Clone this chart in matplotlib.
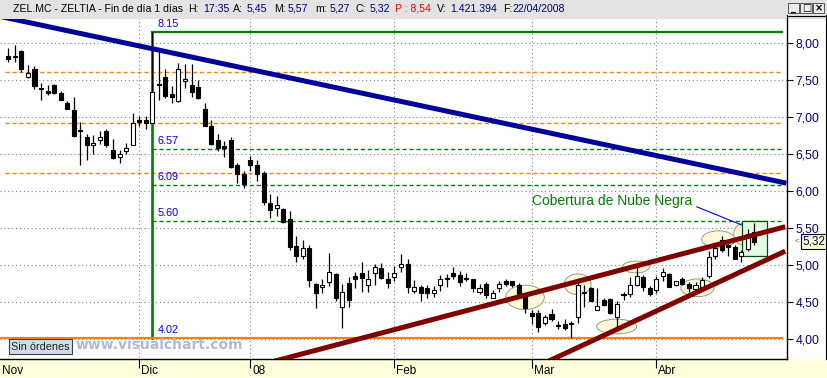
import numpy as np
import matplotlib
matplotlib.use('Agg')
import matplotlib.pyplot as plt
from matplotlib.patches import Rectangle, Ellipse
from matplotlib.lines import Line2D

plt.rcParams['font.family'] = ['Liberation Sans', 'DejaVu Sans']

# daily candles ZEL.MC, 5 nov 2007 .. 22 abr 2008
opens = [7.83, 7.82, 7.90, 7.54, 7.66, 7.40, 7.36, 7.44, 7.33, 7.19,
         7.10, 6.83, 6.73, 6.62, 6.70, 6.82, 6.56, 6.47, 6.55, 6.63,
         6.97, 6.96, 6.93, 7.45, 7.54, 7.31, 7.22, 7.49, 7.44, 7.41,
         7.12, 6.88, 6.69, 6.61, 6.69, 6.36, 6.23, 6.42, 6.36, 6.25,
         5.84, 5.77, 5.76, 5.63, 5.26, 5.12, 5.23, 4.74, 4.70, 4.77,
         4.88, 4.44, 4.76, 4.85, 4.90, 4.73, 4.89, 4.96, 4.81, 4.84,
         4.97, 5.01, 4.65, 4.70, 4.69, 4.62, 4.73, 4.82, 4.89, 4.87,
         4.82, 4.81, 4.64, 4.74, 4.56, 4.69, 4.79, 4.79, 4.73, 4.61,
         4.35, 4.35, 4.22, 4.34, 4.19, 4.21, 4.20, 4.30, 4.64, 4.69,
         4.40, 4.53, 4.54, 4.30, 4.59, 4.61, 4.73, 4.84, 4.69, 4.67,
         4.85, 4.88, 4.73, 4.81, 4.74, 4.68, 4.71, 4.85, 5.12, 5.34,
         5.27, 5.24, 5.12, 5.22, 5.45]
highs = [7.94, 7.98, 7.91, 7.71, 7.69, 7.46, 7.44, 7.45, 7.36, 7.22,
         7.27, 6.94, 6.78, 6.76, 6.81, 6.84, 6.71, 6.56, 6.66, 7.06,
         7.02, 7.02, 8.15, 7.94, 7.66, 7.42, 7.73, 7.72, 7.72, 7.51,
         7.19, 6.96, 6.78, 6.68, 6.74, 6.38, 6.27, 6.48, 6.42, 6.27,
         5.96, 5.94, 5.77, 5.73, 5.39, 5.34, 5.27, 4.76, 4.82, 5.16,
         4.89, 4.75, 4.84, 4.91, 5.05, 4.94, 5.02, 5.03, 4.91, 4.99,
         5.15, 5.08, 4.80, 4.73, 4.73, 4.72, 4.87, 4.88, 4.97, 4.92,
         4.89, 4.82, 4.74, 4.77, 4.67, 4.78, 4.82, 4.79, 4.76, 4.62,
         4.39, 4.39, 4.33, 4.41, 4.24, 4.27, 4.24, 4.82, 4.73, 4.70,
         4.69, 4.55, 4.55, 4.51, 4.64, 4.84, 5.01, 4.87, 4.72, 4.85,
         4.96, 4.89, 4.79, 4.84, 4.77, 4.77, 4.84, 5.19, 5.30, 5.39,
         5.33, 5.27, 5.21, 5.49, 5.57]
lows = [7.75, 7.75, 7.62, 7.53, 7.39, 7.24, 7.30, 7.32, 7.23, 7.11,
        6.74, 6.35, 6.42, 6.50, 6.64, 6.60, 6.44, 6.38, 6.50, 6.62,
        6.89, 6.84, 6.92, 7.24, 7.26, 7.19, 7.21, 7.40, 7.27, 7.25,
        6.88, 6.63, 6.54, 6.47, 6.32, 6.11, 6.05, 6.27, 6.14, 5.81,
        5.64, 5.67, 5.57, 5.21, 5.04, 5.08, 4.70, 4.42, 4.62, 4.72,
        4.51, 4.15, 4.44, 4.69, 4.64, 4.64, 4.73, 4.82, 4.69, 4.78,
        4.91, 4.62, 4.62, 4.52, 4.56, 4.57, 4.65, 4.71, 4.82, 4.72,
        4.78, 4.64, 4.61, 4.55, 4.55, 4.64, 4.72, 4.71, 4.55, 4.35,
        4.21, 4.10, 4.19, 4.25, 4.13, 4.12, 4.02, 4.22, 4.44, 4.51,
        4.39, 4.45, 4.34, 4.15, 4.53, 4.57, 4.72, 4.65, 4.58, 4.63,
        4.78, 4.70, 4.72, 4.73, 4.64, 4.66, 4.69, 4.83, 5.09, 5.18,
        5.12, 5.08, 5.05, 5.19, 5.27]
closes = [7.79, 7.83, 7.65, 7.60, 7.43, 7.39, 7.33, 7.33, 7.24, 7.12,
          6.75, 6.82, 6.62, 6.66, 6.74, 6.62, 6.45, 6.50, 6.58, 6.92,
          6.94, 6.93, 7.35, 7.44, 7.29, 7.27, 7.66, 7.52, 7.34, 7.26,
          6.89, 6.64, 6.58, 6.58, 6.33, 6.23, 6.10, 6.35, 6.23, 5.86,
          5.75, 5.81, 5.58, 5.24, 5.13, 5.23, 4.80, 4.63, 4.73, 4.91,
          4.55, 4.64, 4.53, 4.81, 4.83, 4.81, 4.97, 4.83, 4.76, 4.90,
          5.01, 4.70, 4.71, 4.62, 4.62, 4.67, 4.81, 4.81, 4.85, 4.77,
          4.82, 4.69, 4.69, 4.60, 4.62, 4.75, 4.75, 4.73, 4.57, 4.42,
          4.31, 4.17, 4.30, 4.27, 4.18, 4.15, 4.20, 4.73, 4.62, 4.52,
          4.45, 4.46, 4.35, 4.47, 4.61, 4.73, 4.85, 4.70, 4.61, 4.81,
          4.91, 4.71, 4.78, 4.75, 4.69, 4.73, 4.80, 5.11, 5.23, 5.21,
          5.24, 5.09, 5.18, 5.42, 5.32]

month_labels = ['Nov', 'Dic', '08', 'Feb', 'Mar', 'Abr']
month_index = [-1.25, 20, 37, 59, 80, 99]

header_name = 'ZEL.MC - ZELTIA - Fin de día 1 días'
header_fields = [('H:', '17:35'), ('A:', '5,45'), ('M:', '5,57'), ('m:', '5,27'),
                 ('C:', '5,32'), ('P : 8,54', ''), ('V:', '1.421.394'), ('F:', '22/04/2008')]

# fibonacci tool: high on candle 22, low on candle 86
fib_high = 8.15
fib_low = 4.02
fib_mid = [6.57, 6.09, 5.60]
orange_levels = [7.61, 6.93, 6.25]

# hand drawn trend lines, (candle index, price) end points
blue_line = ([-1.3, 118.9], [8.367, 6.11])
red_upper = ([40.6, 118.7], [3.70, 5.52])
red_lower = ([82.5, 118.7], [3.70, 5.19])

# highlighted zones: (index, price, width, height)
ellipses = [(78.95, 4.565, 5.9, 0.33), (87.0, 4.742, 4.1, 0.28), (95.9, 4.976, 4.1, 0.16),
            (92.96, 4.17, 6.1, 0.20), (105.3, 4.694, 5.1, 0.24), (108.5, 5.35, 5.1, 0.23),
            (112.4, 5.42, 3.1, 0.30)]
pattern_box = (112.05, 5.124, 3.92, 0.478)
pattern_text = 'Cobertura de Nube Negra'

W, H = 828, 378
fig = plt.figure(figsize=(W / 100, H / 100), dpi=100)
fig.patch.set_facecolor('white')


def fx(px):
    return px / W


def fy(py):
    return 1 - py / H


# title bar and bottom strip
fig.add_artist(Rectangle((0, fy(19)), 1, 19 / H, transform=fig.transFigure,
                         fc='#e3e3e3', ec='none', zorder=0))
fig.add_artist(Rectangle((0, 0), 1, fy(359), transform=fig.transFigure,
                         fc='#ffffdc', ec='none', zorder=0))

ax = fig.add_axes([0, fy(359), fx(787), (359 - 19) / H])
ax.set_facecolor('white')
ax.set_xlim(-1.268, 118.98)
ax.set_ylim(3.7307, 8.3315)

x = np.arange(len(opens))
o = np.array(opens)
c = np.array(closes)
up = c >= o

# grid
grid_levels = np.arange(4.0, 8.01, 0.5)
ax.hlines(grid_levels, -1.3, 119, colors='#808080', linestyles=(0, (1, 2.5)), lw=0.8, zorder=1)
ax.vlines(month_index[1:], 3.7, 8.4, colors='#808080', linestyles=(0, (1, 2.5)), lw=0.8, zorder=1)

# fibonacci / levels
ax.hlines(orange_levels, -0.5, 118.2, colors='#ff8000', linestyles=(0, (3, 2)), lw=1.0, zorder=2)
ax.hlines(fib_mid, 22, 118.2, colors='#008000', linestyles=(0, (3, 2)), lw=1.0, zorder=2)
ax.plot([22, 118.2], [fib_high, fib_high], color='#008000', lw=1.6, zorder=2)
ax.plot([22, 22], [fib_low, fib_high], color='#008000', lw=1.9, zorder=2)
ax.plot([-1.3, 118.2], [fib_low, fib_low], color='#ff8000', lw=1.6, zorder=2)
for lv in [fib_high] + fib_mid + [fib_low]:
    ax.annotate(f'{lv:.2f}', xy=(22, lv), xytext=(5, 8), textcoords='offset pixels',
                ha='left', va='center', color='#0000ff', fontsize=7.8, zorder=6)

# zones
for ex, ey, ew, eh in ellipses:
    ax.add_patch(Ellipse((ex, ey), ew, eh, fc='#fcf9dc', ec='#8c8c70', lw=0.6, zorder=3))
bx, by, bw, bh = pattern_box
ax.add_patch(Rectangle((bx, by), bw, bh, fc='#e4fce4', ec='#005000', lw=0.9, zorder=3))

# candles
body_lo = np.minimum(o, c)
body_h = np.maximum(np.abs(c - o), 0.012)
ax.vlines(x, lows, highs, colors='black', lw=0.9, zorder=4)
ax.bar(x[up], body_h[up], bottom=body_lo[up], width=0.62, color='white',
       edgecolor='black', linewidth=0.8, zorder=5)
ax.bar(x[~up], body_h[~up], bottom=body_lo[~up], width=0.62, color='black',
       edgecolor='black', linewidth=0.8, zorder=5)

# trend lines
ax.plot(*blue_line, color='#00009c', lw=3.6, solid_capstyle='butt', zorder=7)
ax.plot(*red_upper, color='#800000', lw=3.6, solid_capstyle='butt', zorder=7)
ax.plot(*red_lower, color='#800000', lw=3.6, solid_capstyle='butt', zorder=7)

# annotation
ax.text(80.0, 5.87, pattern_text, color='#008000', fontsize=10, ha='left', va='center', zorder=8)
ax.plot([105.2, 112.05], [5.79, 5.544], color='#0000ff', lw=0.8, zorder=8)

# axes styling
for side in ['top', 'left']:
    ax.spines[side].set_visible(False)
ax.spines['bottom'].set_linewidth(1.0)
ax.spines['right'].set_linewidth(1.0)
ax.yaxis.tick_right()
ax.set_yticks(grid_levels)
ax.set_yticklabels([f'{v:.2f}'.replace('.', ',') for v in grid_levels])
ax.tick_params(axis='y', length=4, width=0.8, pad=2, labelcolor='#000080', labelsize=8.7)
ax.set_xticks(month_index[1:])
ax.set_xticklabels([])
ax.tick_params(axis='x', length=6.5, width=0.8, direction='out')
for m, lab in zip(month_index, month_labels):
    ax.annotate(lab, xy=(m, 0), xycoords=('data', 'axes fraction'), xytext=(2, -12),
                textcoords='offset pixels', ha='left', va='center', fontsize=8.5,
                annotation_clip=False)

# last price marker
ax.text(1.02, closes[-1], f'{closes[-1]:.2f}'.replace('.', ','), transform=ax.get_yaxis_transform(),
        ha='left', va='center', fontsize=8.5, color='#000080', clip_on=False, zorder=10,
        bbox=dict(boxstyle='square,pad=0.15', fc='#ffffc0', ec='black', lw=0.8))
ax.text(1.013, closes[-1], '<', transform=ax.get_yaxis_transform(), ha='center', va='center',
        fontsize=6, color='#606060', clip_on=False)

# right panel frame
fig.add_artist(Line2D([fx(826.5), fx(826.5)], [fy(15), fy(359)], transform=fig.transFigure,
                      color='black', lw=0.8))
fig.add_artist(Line2D([fx(787), fx(827)], [fy(15.5), fy(15.5)], transform=fig.transFigure,
                      color='black', lw=0.8))
fig.add_artist(Line2D([fx(787.5), fx(787.5)], [fy(15), fy(19)], transform=fig.transFigure,
                      color='black', lw=0.8))

# header text
title_x = [13, 188, 233, 274, 315, 356, 395, 437, 503]
value_x = [203, 247, 288, 330, 370, None, 450, 513]
fig.text(fx(title_x[0]), fy(8.5), header_name, fontsize=7.6, ha='left', va='center', color='black')
for (lab, val), lx, vx in zip(header_fields, title_x[1:], value_x):
    if val == '':
        fig.text(fx(lx), fy(8.5), lab, fontsize=7.6, ha='left', va='center', color='#ff0000')
        continue
    fig.text(fx(lx), fy(8.5), lab, fontsize=7.6, ha='left', va='center', color='black')
    fig.text(fx(vx), fy(8.5), val, fontsize=7.6, ha='left', va='center', color='#000080')

# window buttons
for i, glyph in enumerate(['_', '\u25a1', '\u00d7']):
    bx0 = 788 + i * 12.5
    fig.add_artist(Rectangle((fx(bx0), fy(13)), fx(11.5), 10 / H, transform=fig.transFigure,
                             fc='#ececec', ec='#404040', lw=0.6))
    fig.text(fx(bx0 + 5.8), fy(8), glyph, fontsize=7, ha='center', va='center',
             color='black', fontweight='bold', family=['DejaVu Sans'])

# footer
fig.text(fx(40.5), fy(346.5), 'Sin órdenes', fontsize=7.8, ha='center', va='center', color='#202020',
         bbox=dict(boxstyle='square,pad=0.2', fc='#d0dde8', ec='#404040', lw=0.8), zorder=10)
fig.text(fx(76), fy(345), 'www.visualchart.com', fontsize=10, fontweight='bold',
         family=['DejaVu Sans'], ha='left', va='center', color='#b4b8d8', zorder=10)

fig.savefig('out.png', dpi=100)
